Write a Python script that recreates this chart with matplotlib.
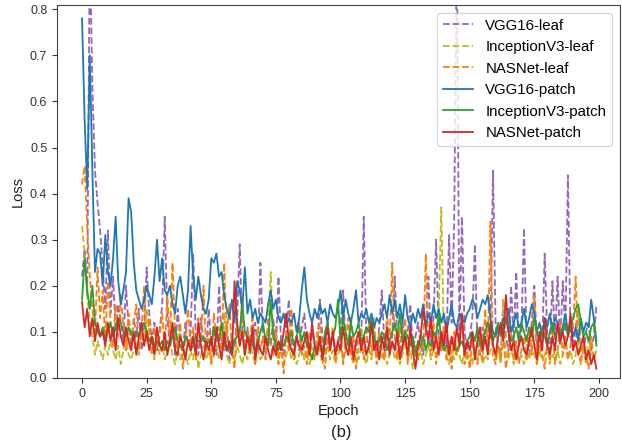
import numpy as np
import matplotlib
matplotlib.use("Agg")
import matplotlib.pyplot as plt

plt.rcParams['font.family'] = ['Liberation Sans', 'DejaVu Sans']

# ------------------------------------------------------------
# Loss per epoch (epochs 0..199)
# ------------------------------------------------------------
vgg16_leaf = [
    0.22, 0.28, 0.18, 0.95, 0.63, 0.45, 0.38, 0.32, 0.24, 0.15,
    0.32, 0.14, 0.22, 0.10, 0.16, 0.12, 0.08, 0.20, 0.11, 0.07,
    0.13, 0.09, 0.15, 0.06, 0.11, 0.24, 0.14, 0.08, 0.12, 0.06,
    0.10, 0.16, 0.35, 0.13, 0.07, 0.11, 0.05, 0.15, 0.08, 0.06,
    0.12, 0.07, 0.10, 0.27, 0.09, 0.05, 0.13, 0.08, 0.06, 0.15,
    0.07, 0.11, 0.05, 0.20, 0.08, 0.06, 0.12, 0.04, 0.09, 0.07,
    0.13, 0.29, 0.10, 0.06, 0.11, 0.05, 0.08, 0.12, 0.06, 0.25,
    0.09, 0.05, 0.11, 0.07, 0.13, 0.06, 0.22, 0.08, 0.05, 0.10,
    0.17, 0.07, 0.05, 0.09, 0.06, 0.11, 0.14, 0.07, 0.05, 0.10,
    0.08, 0.06, 0.17, 0.09, 0.05, 0.12, 0.07, 0.10, 0.06, 0.08,
    0.11, 0.19, 0.07, 0.05, 0.13, 0.08, 0.06, 0.10, 0.07, 0.35,
    0.09, 0.06, 0.12, 0.08, 0.05, 0.11, 0.19, 0.07, 0.10, 0.06,
    0.09, 0.22, 0.08, 0.05, 0.12, 0.07, 0.10, 0.16, 0.06, 0.09,
    0.12, 0.07, 0.05, 0.10, 0.22, 0.08, 0.13, 0.30, 0.09, 0.06,
    0.11, 0.07, 0.31, 0.12, 0.34, 0.95, 0.08, 0.35, 0.10, 0.06,
    0.09, 0.13, 0.29, 0.07, 0.05, 0.11, 0.08, 0.06, 0.10, 0.45,
    0.12, 0.07, 0.05, 0.17, 0.09, 0.06, 0.20, 0.08, 0.23, 0.07,
    0.10, 0.325, 0.08, 0.05, 0.12, 0.20, 0.07, 0.10, 0.06, 0.27,
    0.09, 0.06, 0.21, 0.08, 0.22, 0.07, 0.21, 0.10, 0.44, 0.09,
    0.06, 0.11, 0.15, 0.07, 0.05, 0.10, 0.12, 0.06, 0.09, 0.155,
]

inceptionv3_leaf = [
    0.33, 0.27, 0.18, 0.12, 0.09, 0.05, 0.08, 0.06, 0.04, 0.07,
    0.05, 0.08, 0.06, 0.04, 0.07, 0.03, 0.06, 0.09, 0.05, 0.04,
    0.06, 0.08, 0.05, 0.12, 0.07, 0.15, 0.10, 0.06, 0.04, 0.09,
    0.05, 0.07, 0.04, 0.06, 0.08, 0.05, 0.03, 0.06, 0.04, 0.07,
    0.05, 0.03, 0.06, 0.04, 0.08, 0.02, 0.05, 0.07, 0.04, 0.06,
    0.03, 0.05, 0.07, 0.04, 0.06, 0.14, 0.05, 0.03, 0.06, 0.04,
    0.07, 0.05, 0.03, 0.06, 0.04, 0.08, 0.05, 0.03, 0.06, 0.04,
    0.05, 0.07, 0.10, 0.23, 0.08, 0.05, 0.04, 0.06, 0.03, 0.05,
    0.07, 0.04, 0.06, 0.03, 0.05, 0.08, 0.04, 0.06, 0.03, 0.05,
    0.04, 0.10, 0.06, 0.03, 0.05, 0.07, 0.04, 0.06, 0.03, 0.05,
    0.07, 0.04, 0.06, 0.09, 0.05, 0.03, 0.06, 0.04, 0.07, 0.05,
    0.03, 0.06, 0.04, 0.13, 0.05, 0.07, 0.04, 0.06, 0.03, 0.05,
    0.07, 0.04, 0.06, 0.03, 0.05, 0.08, 0.04, 0.06, 0.02, 0.05,
    0.04, 0.06, 0.03, 0.05, 0.07, 0.04, 0.06, 0.10, 0.15, 0.37,
    0.08, 0.05, 0.03, 0.06, 0.04, 0.07, 0.05, 0.03, 0.06, 0.04,
    0.05, 0.03, 0.07, 0.04, 0.06, 0.03, 0.05, 0.04, 0.06, 0.08,
    0.04, 0.06, 0.03, 0.17, 0.05, 0.04, 0.07, 0.03, 0.06, 0.04,
    0.05, 0.03, 0.06, 0.04, 0.07, 0.05, 0.03, 0.06, 0.04, 0.05,
    0.07, 0.03, 0.05, 0.04, 0.06, 0.03, 0.05, 0.08, 0.04, 0.06,
    0.03, 0.05, 0.15, 0.04, 0.06, 0.03, 0.09, 0.05, 0.04, 0.06,
]

nasnet_leaf = [
    0.42, 0.46, 0.33, 0.22, 0.15, 0.10, 0.24, 0.13, 0.19, 0.08,
    0.21, 0.12, 0.07, 0.16, 0.09, 0.18, 0.11, 0.06, 0.14, 0.08,
    0.12, 0.16, 0.06, 0.10, 0.20, 0.08, 0.13, 0.05, 0.11, 0.07,
    0.09, 0.14, 0.06, 0.18, 0.08, 0.25, 0.10, 0.05, 0.12, 0.02,
    0.09, 0.15, 0.07, 0.11, 0.04, 0.13, 0.08, 0.20, 0.06, 0.10,
    0.03, 0.14, 0.08, 0.11, 0.05, 0.25, 0.09, 0.16, 0.06, 0.02,
    0.12, 0.07, 0.18, 0.05, 0.10, 0.08, 0.14, 0.03, 0.11, 0.06,
    0.09, 0.04, 0.13, 0.07, 0.05, 0.11, 0.03, 0.08, 0.01, 0.10,
    0.06, 0.15, 0.04, 0.09, 0.12, 0.05, 0.07, 0.03, 0.10, 0.06,
    0.04, 0.08, 0.12, 0.05, 0.02, 0.09, 0.06, 0.11, 0.04, 0.07,
    0.10, 0.03, 0.08, 0.13, 0.05, 0.09, 0.02, 0.07, 0.11, 0.04,
    0.08, 0.12, 0.05, 0.09, 0.03, 0.10, 0.06, 0.04, 0.14, 0.07,
    0.25, 0.08, 0.04, 0.11, 0.06, 0.13, 0.03, 0.09, 0.05, 0.07,
    0.04, 0.10, 0.06, 0.27, 0.08, 0.05, 0.12, 0.03, 0.09, 0.06,
    0.11, 0.04, 0.08, 0.02, 0.10, 0.05, 0.07, 0.13, 0.03, 0.06,
    0.02, 0.08, 0.05, 0.03, 0.09, 0.04, 0.15, 0.06, 0.34, 0.05,
    0.03, 0.07, 0.04, 0.09, 0.02, 0.06, 0.10, 0.04, 0.08, 0.03,
    0.06, 0.09, 0.04, 0.11, 0.05, 0.18, 0.03, 0.07, 0.05, 0.02,
    0.08, 0.04, 0.10, 0.03, 0.06, 0.12, 0.05, 0.09, 0.04, 0.07,
    0.11, 0.22, 0.06, 0.03, 0.08, 0.05, 0.02, 0.09, 0.04, 0.06,
]

vgg16_patch = [
    0.78, 0.56, 0.41, 0.70, 0.45, 0.23, 0.28, 0.27, 0.20, 0.31,
    0.23, 0.20, 0.26, 0.35, 0.21, 0.16, 0.19, 0.23, 0.39, 0.36,
    0.25, 0.19, 0.17, 0.15, 0.17, 0.20, 0.18, 0.16, 0.22, 0.30,
    0.21, 0.26, 0.19, 0.18, 0.20, 0.16, 0.14, 0.20, 0.22, 0.18,
    0.14, 0.19, 0.33, 0.22, 0.17, 0.22, 0.18, 0.15, 0.14, 0.17,
    0.26, 0.25, 0.27, 0.22, 0.23, 0.18, 0.15, 0.13, 0.17, 0.12,
    0.21, 0.19, 0.15, 0.24, 0.14, 0.17, 0.13, 0.15, 0.12, 0.14,
    0.13, 0.12, 0.16, 0.19, 0.15, 0.17, 0.13, 0.12, 0.14, 0.11,
    0.13, 0.12, 0.14, 0.10, 0.13, 0.19, 0.24, 0.17, 0.14, 0.12,
    0.15, 0.13, 0.16, 0.14, 0.15, 0.12, 0.16, 0.14, 0.13, 0.15,
    0.19, 0.13, 0.17, 0.14, 0.12, 0.15, 0.19, 0.12, 0.14, 0.13,
    0.15, 0.12, 0.14, 0.11, 0.13, 0.12, 0.14, 0.16, 0.13, 0.18,
    0.14, 0.17, 0.13, 0.16, 0.12, 0.18, 0.13, 0.11, 0.14, 0.12,
    0.15, 0.13, 0.16, 0.11, 0.14, 0.12, 0.16, 0.13, 0.15, 0.12,
    0.14, 0.10, 0.13, 0.16, 0.12, 0.11, 0.14, 0.13, 0.12, 0.14,
    0.15, 0.17, 0.16, 0.13, 0.15, 0.17, 0.16, 0.18, 0.13, 0.10,
    0.09, 0.11, 0.10, 0.13, 0.12, 0.15, 0.10, 0.12, 0.14, 0.11,
    0.12, 0.15, 0.11, 0.13, 0.16, 0.14, 0.10, 0.12, 0.09, 0.13,
    0.11, 0.14, 0.10, 0.13, 0.12, 0.09, 0.11, 0.14, 0.10, 0.12,
    0.09, 0.11, 0.08, 0.13, 0.10, 0.12, 0.11, 0.17, 0.13, 0.08,
]

inceptionv3_patch = [
    0.17, 0.26, 0.19, 0.15, 0.20, 0.12, 0.10, 0.09, 0.11, 0.08,
    0.10, 0.12, 0.09, 0.11, 0.13, 0.12, 0.10, 0.09, 0.11, 0.10,
    0.08, 0.10, 0.09, 0.11, 0.12, 0.10, 0.08, 0.09, 0.07, 0.08,
    0.07, 0.08, 0.06, 0.08, 0.07, 0.09, 0.11, 0.08, 0.07, 0.06,
    0.09, 0.08, 0.06, 0.07, 0.09, 0.08, 0.08, 0.09, 0.07, 0.08,
    0.07, 0.11, 0.09, 0.08, 0.12, 0.08, 0.06, 0.07, 0.05, 0.08,
    0.09, 0.10, 0.16, 0.10, 0.09, 0.08, 0.07, 0.06, 0.08, 0.10,
    0.12, 0.08, 0.07, 0.17, 0.09, 0.07, 0.06, 0.08, 0.07, 0.09,
    0.08, 0.10, 0.07, 0.09, 0.11, 0.08, 0.10, 0.07, 0.06, 0.04,
    0.07, 0.06, 0.08, 0.05, 0.10, 0.12, 0.07, 0.09, 0.11, 0.17,
    0.08, 0.13, 0.10, 0.07, 0.12, 0.09, 0.10, 0.12, 0.08, 0.09,
    0.11, 0.10, 0.13, 0.09, 0.07, 0.08, 0.10, 0.09, 0.06, 0.08,
    0.10, 0.12, 0.09, 0.14, 0.08, 0.10, 0.09, 0.07, 0.09, 0.05,
    0.08, 0.07, 0.09, 0.06, 0.08, 0.07, 0.10, 0.09, 0.14, 0.08,
    0.06, 0.07, 0.06, 0.08, 0.07, 0.06, 0.07, 0.08, 0.06, 0.08,
    0.09, 0.10, 0.08, 0.11, 0.07, 0.08, 0.10, 0.12, 0.09, 0.08,
    0.10, 0.12, 0.09, 0.11, 0.13, 0.10, 0.08, 0.09, 0.11, 0.08,
    0.12, 0.10, 0.08, 0.11, 0.09, 0.13, 0.10, 0.08, 0.11, 0.09,
    0.07, 0.10, 0.12, 0.09, 0.11, 0.08, 0.10, 0.12, 0.09, 0.11,
    0.13, 0.15, 0.16, 0.12, 0.09, 0.10, 0.08, 0.11, 0.12, 0.07,
]

nasnet_patch = [
    0.165, 0.11, 0.15, 0.09, 0.13, 0.08, 0.12, 0.09, 0.10, 0.07,
    0.12, 0.08, 0.11, 0.06, 0.13, 0.09, 0.07, 0.11, 0.08, 0.06,
    0.10, 0.05, 0.09, 0.12, 0.07, 0.10, 0.06, 0.09, 0.05, 0.11,
    0.07, 0.06, 0.10, 0.05, 0.08, 0.12, 0.06, 0.05, 0.09, 0.07,
    0.04, 0.08, 0.06, 0.09, 0.05, 0.12, 0.07, 0.04, 0.08, 0.06,
    0.09, 0.05, 0.11, 0.07, 0.04, 0.10, 0.06, 0.08, 0.05, 0.21,
    0.12, 0.07, 0.10, 0.05, 0.09, 0.06, 0.11, 0.04, 0.08, 0.06,
    0.05, 0.09, 0.06, 0.04, 0.07, 0.05, 0.08, 0.06, 0.10, 0.14,
    0.08, 0.06, 0.05, 0.09, 0.07, 0.06, 0.08, 0.10, 0.05, 0.12,
    0.07, 0.05, 0.09, 0.04, 0.08, 0.11, 0.06, 0.10, 0.05, 0.08,
    0.06, 0.11, 0.07, 0.05, 0.09, 0.04, 0.08, 0.10, 0.06, 0.09,
    0.05, 0.07, 0.12, 0.06, 0.08, 0.04, 0.09, 0.06, 0.11, 0.05,
    0.08, 0.06, 0.10, 0.04, 0.07, 0.09, 0.05, 0.11, 0.06, 0.02,
    0.07, 0.09, 0.15, 0.11, 0.08, 0.13, 0.06, 0.09, 0.05, 0.10,
    0.07, 0.12, 0.05, 0.09, 0.06, 0.11, 0.07, 0.14, 0.05, 0.08,
    0.06, 0.10, 0.04, 0.08, 0.11, 0.06, 0.09, 0.05, 0.12, 0.07,
    0.05, 0.09, 0.12, 0.08, 0.18, 0.10, 0.06, 0.08, 0.04, 0.07,
    0.09, 0.06, 0.05, 0.08, 0.11, 0.07, 0.04, 0.10, 0.06, 0.13,
    0.07, 0.05, 0.09, 0.06, 0.12, 0.08, 0.10, 0.07, 0.09, 0.14,
    0.06, 0.08, 0.05, 0.07, 0.09, 0.04, 0.06, 0.03, 0.05, 0.02,
]

epochs = np.arange(len(vgg16_patch))

# ------------------------------------------------------------
# Figure
# ------------------------------------------------------------
fig = plt.figure(figsize=(6.22, 4.46), dpi=100)
ax = fig.add_axes([0.0916, 0.1525, 0.905, 0.836])

ax.plot(epochs, vgg16_leaf, color="#9467bd", linestyle="--", linewidth=1.3, label="VGG16-leaf")
ax.plot(epochs, inceptionv3_leaf, color="#bcbd22", linestyle="--", linewidth=1.3, label="InceptionV3-leaf")
ax.plot(epochs, nasnet_leaf, color="#ff7f0e", linestyle="--", linewidth=1.3, label="NASNet-leaf")
ax.plot(epochs, vgg16_patch, color="#1f77b4", linewidth=1.3, label="VGG16-patch")
ax.plot(epochs, inceptionv3_patch, color="#2ca02c", linewidth=1.3, label="InceptionV3-patch")
ax.plot(epochs, nasnet_patch, color="#d62728", linewidth=1.3, label="NASNet-patch")

ax.set_xlim(-9.7, 208.1)
ax.set_ylim(0, 0.809)
ax.set_xticks(np.arange(0, 201, 25))
ax.set_yticks(np.arange(0, 0.81, 0.1))
ax.tick_params(axis="both", labelsize=9, colors="#333333")
for sp in ax.spines.values():
    sp.set_color("#444444")

ax.set_xlabel("Epoch", fontsize=10.5, color="#222222", labelpad=3)
ax.set_ylabel("Loss", fontsize=10.5, color="#222222", labelpad=4)

ax.legend(loc="upper right", fontsize=10.8, handlelength=2.0)

fig.text(0.549, 0.03, "(b)", fontsize=12, ha="center", va="center", color="#222222")

plt.savefig("out.png", dpi=100)
